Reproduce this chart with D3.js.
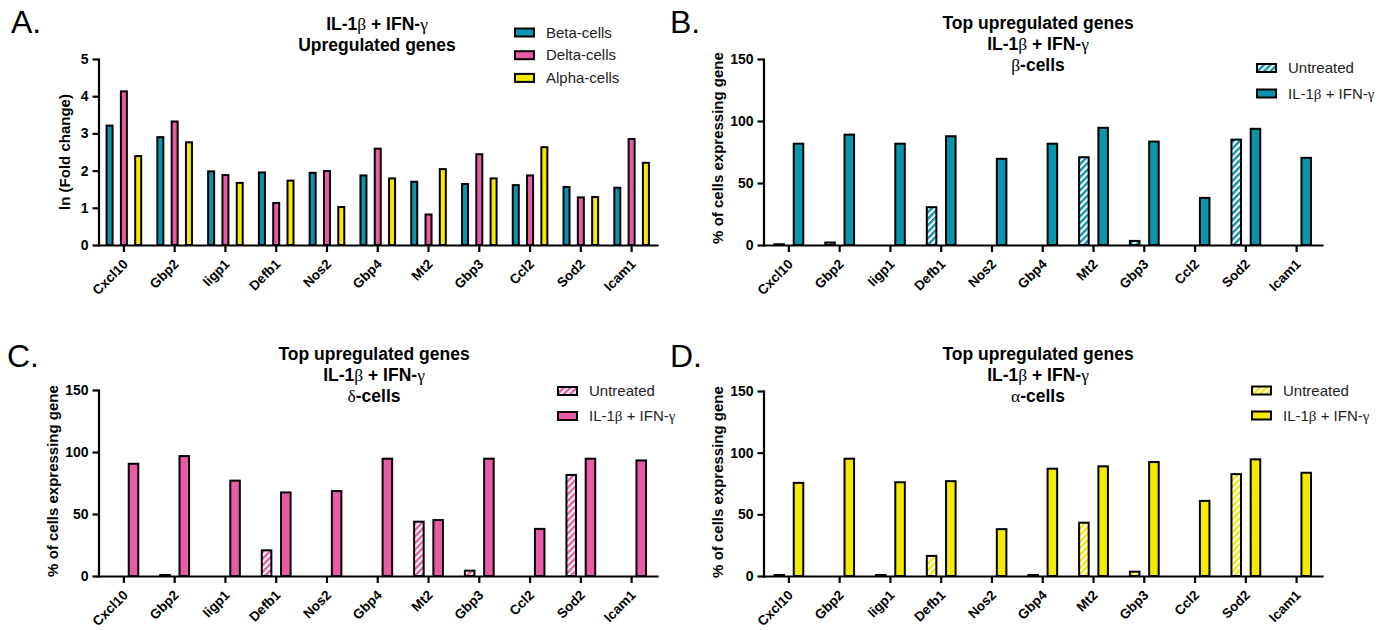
<!DOCTYPE html>
<html>
<head>
<meta charset="utf-8">
<script src="https://cdn.jsdelivr.net/npm/d3@7"></script>
<style>
  body { margin: 0; background: #fff; }
  svg text { font-family: "Liberation Sans", Arial, sans-serif; }
</style>
</head>
<body>
<svg id="fig" width="1386" height="630"></svg>
<script>
// genes on the x axis (same order in all four panels)
const genes = ['Cxcl10', 'Gbp2', 'Iigp1', 'Defb1', 'Nos2', 'Gbp4', 'Mt2', 'Gbp3', 'Ccl2', 'Sod2', 'Icam1'];

// A: ln(fold change)
const foldBeta  = [3.21, 2.90, 1.98, 1.95, 1.94, 1.87, 1.70, 1.64, 1.61, 1.56, 1.54];
const foldDelta = [4.13, 3.32, 1.88, 1.13, 1.99, 2.59, 0.82, 2.44, 1.87, 1.28, 2.85];
const foldAlpha = [2.39, 2.76, 1.67, 1.73, 1.02, 1.79, 2.04, 1.79, 2.63, 1.29, 2.21];

// B-D: % of cells expressing gene
const betaUntreated  = [0.6, 2, 0, 30.5, 0, 0, 70.8, 3.3, 0, 85, 0];
const betaTreated    = [81.7, 89, 81.7, 87.7, 69.5, 81.7, 94.5, 83.4, 38, 93.7, 70.3];
const deltaUntreated = [0, 0.8, 0, 20.7, 0, 0, 43.8, 4.3, 0, 81.5, 0];
const deltaTreated   = [90.5, 96.7, 76.9, 67.4, 68.5, 94.6, 45.1, 94.6, 38, 94.6, 93.2];
const alphaUntreated = [0.8, 0, 0.8, 16.3, 0, 0.8, 43.2, 3.5, 0, 82.6, 0];
const alphaTreated   = [75.5, 95.1, 76, 76.9, 38, 87, 88.9, 92.4, 60.9, 94.6, 83.7];

const foldTicks = [0, 1, 2, 3, 4, 5];
const pctTicks = [0, 50, 100, 150];

const BLUE = '#0a95ad', PINK = '#ea5ba5', YELLOW = '#f3ea00';

const svg = d3.select('#fig');
svg.append('rect').attr('width', 1386).attr('height', 630).attr('fill', '#fff');

// hatch patterns for untreated bars
const defs = svg.append('defs');
[['blue', BLUE], ['pink', PINK], ['yellow', YELLOW]].forEach(([id, c]) => {
  const p = defs.append('pattern')
    .attr('id', 'hatch-' + id)
    .attr('patternUnits', 'userSpaceOnUse')
    .attr('width', 4.6).attr('height', 4.6)
    .attr('patternTransform', 'rotate(45)');
  p.append('rect').attr('width', 4.6).attr('height', 4.6).attr('fill', '#fff');
  p.append('rect').attr('width', 2.4).attr('height', 4.6).attr('fill', c);
});

// text with greek letters in a serif face
function greek(sel, str) {
  str.split(/([αβγδ])/).filter(s => s).forEach(s => {
    const t = sel.append('tspan').text(s);
    if (/[αβγδ]/.test(s)) t.style('font-family', '"Liberation Serif", serif').style('font-weight', 'normal');
  });
}

function drawPanel(cfg) {
  const g = svg.append('g');

  const x = d3.scaleBand().domain(genes).range(cfg.xRange);
  const keys = cfg.series.map(s => s.name);
  const x1 = d3.scaleBand().domain(keys).range(cfg.subRange).paddingInner(cfg.subPad);
  const y = d3.scaleLinear().domain(cfg.yDomain).range(cfg.yRange);

  // bars
  cfg.series.forEach(s => {
    g.append('g').selectAll('rect')
      .data(s.values.map((v, i) => ({ gene: genes[i], v })).filter(d => d.v > 0))
      .enter()
      .append('rect')
      .attr('x', d => x(d.gene) + x.bandwidth() / 2 + x1(s.name) + 1)
      .attr('width', x1.bandwidth() - 2)
      .attr('y', d => y(d.v))
      .attr('height', d => y(0) - y(d.v))
      .attr('fill', s.fill)
      .attr('stroke', '#000')
      .attr('stroke-width', 2);
  });

  // axes
  const ya = g.append('g')
    .attr('transform', `translate(${cfg.xRange[0]},0)`)
    .call(d3.axisLeft(y).tickValues(cfg.yTicks).tickFormat(d3.format('d'))
      .tickSize(6).tickSizeOuter(0).tickPadding(4));
  const xa = g.append('g')
    .attr('transform', `translate(0,${y(0)})`)
    .call(d3.axisBottom(x).tickSize(7).tickSizeOuter(0));

  [ya, xa].forEach(a => {
    a.select('.domain').attr('stroke-width', 2.2).attr('stroke-linecap', 'square');
    a.selectAll('.tick line').attr('stroke-width', 2.2);
    a.selectAll('text').style('font-size', '14px').style('font-weight', 'bold').attr('fill', '#000');
  });
  xa.selectAll('text')
    .style('font-size', '13.5px')
    .attr('text-anchor', 'end')
    .attr('dy', null).attr('y', 0)
    .attr('transform', 'translate(5,20) rotate(-45)');

  // y title
  g.append('text')
    .attr('transform', `translate(${cfg.yLabelX},${cfg.yLabelY}) rotate(-90)`)
    .attr('text-anchor', 'middle')
    .attr('dy', '0.35em')
    .style('font-size', '15px')
    .style('font-weight', 'bold')
    .text(cfg.yLabel);

  // title lines
  cfg.title.forEach((line, i) => {
    const t = g.append('text')
      .attr('x', cfg.titleX)
      .attr('y', cfg.titleY + i * 21)
      .attr('text-anchor', 'middle')
      .style('font-size', '17.5px')
      .style('font-weight', 'bold');
    greek(t, line);
  });

  // panel letter
  g.append('text')
    .attr('x', cfg.letterX).attr('y', cfg.letterY)
    .style('font-size', '32px')
    .text(cfg.letter);

  // legend
  cfg.series.forEach((s, i) => {
    const ry = cfg.legendY + i * cfg.legendStep;
    g.append('rect')
      .attr('x', cfg.legendX).attr('y', ry - 4)
      .attr('width', 19).attr('height', 8)
      .attr('fill', s.fill).attr('stroke', '#000').attr('stroke-width', 2);
    const t = g.append('text')
      .attr('x', cfg.legendX + 31).attr('y', ry + 5)
      .style('font-size', '15px')
      .attr('fill', '#222');
    greek(t, s.name);
  });
}

const treat = 'IL-1β + IFN-γ';

drawPanel({
  letter: 'A.', letterX: 11, letterY: 33,
  title: ['IL-1β + IFN-γ', 'Upregulated genes'], titleX: 377, titleY: 30,
  xRange: [98.5, 657], subRange: [-18.3, 18.3], subPad: 0.44,
  yDomain: [0, 5], yRange: [245, 59], yTicks: foldTicks,
  yLabel: 'ln (Fold change)', yLabelX: 65, yLabelY: 152,
  series: [
    { name: 'Beta-cells', values: foldBeta, fill: BLUE },
    { name: 'Delta-cells', values: foldDelta, fill: PINK },
    { name: 'Alpha-cells', values: foldAlpha, fill: YELLOW }
  ],
  legendX: 515, legendY: 32.5, legendStep: 22.7
});

drawPanel({
  letter: 'B.', letterX: 670, letterY: 33,
  title: ['Top upregulated genes', treat, 'β-cells'], titleX: 1038, titleY: 29,
  xRange: [763.5, 1322], subRange: [-15.4, 15.4], subPad: 0.4,
  yDomain: [0, 150], yRange: [245, 59], yTicks: pctTicks,
  yLabel: '% of cells expressing gene', yLabelX: 718, yLabelY: 148,
  series: [
    { name: 'Untreated', values: betaUntreated, fill: 'url(#hatch-blue)' },
    { name: treat, values: betaTreated, fill: BLUE }
  ],
  legendX: 1257, legendY: 68, legendStep: 25.5
});

drawPanel({
  letter: 'C.', letterX: 7, letterY: 367,
  title: ['Top upregulated genes', treat, 'δ-cells'], titleX: 374, titleY: 360,
  xRange: [98.5, 657], subRange: [-15.4, 15.4], subPad: 0.4,
  yDomain: [0, 150], yRange: [576, 390], yTicks: pctTicks,
  yLabel: '% of cells expressing gene', yLabelX: 53, yLabelY: 481,
  series: [
    { name: 'Untreated', values: deltaUntreated, fill: 'url(#hatch-pink)' },
    { name: treat, values: deltaTreated, fill: PINK }
  ],
  legendX: 558, legendY: 391, legendStep: 25
});

drawPanel({
  letter: 'D.', letterX: 670, letterY: 367,
  title: ['Top upregulated genes', treat, 'α-cells'], titleX: 1038, titleY: 360,
  xRange: [763.5, 1322], subRange: [-15.4, 15.4], subPad: 0.4,
  yDomain: [0, 150], yRange: [576, 391], yTicks: pctTicks,
  yLabel: '% of cells expressing gene', yLabelX: 718, yLabelY: 482,
  series: [
    { name: 'Untreated', values: alphaUntreated, fill: 'url(#hatch-yellow)' },
    { name: treat, values: alphaTreated, fill: YELLOW }
  ],
  legendX: 1252, legendY: 390.5, legendStep: 25
});
</script>
</body>
</html>
